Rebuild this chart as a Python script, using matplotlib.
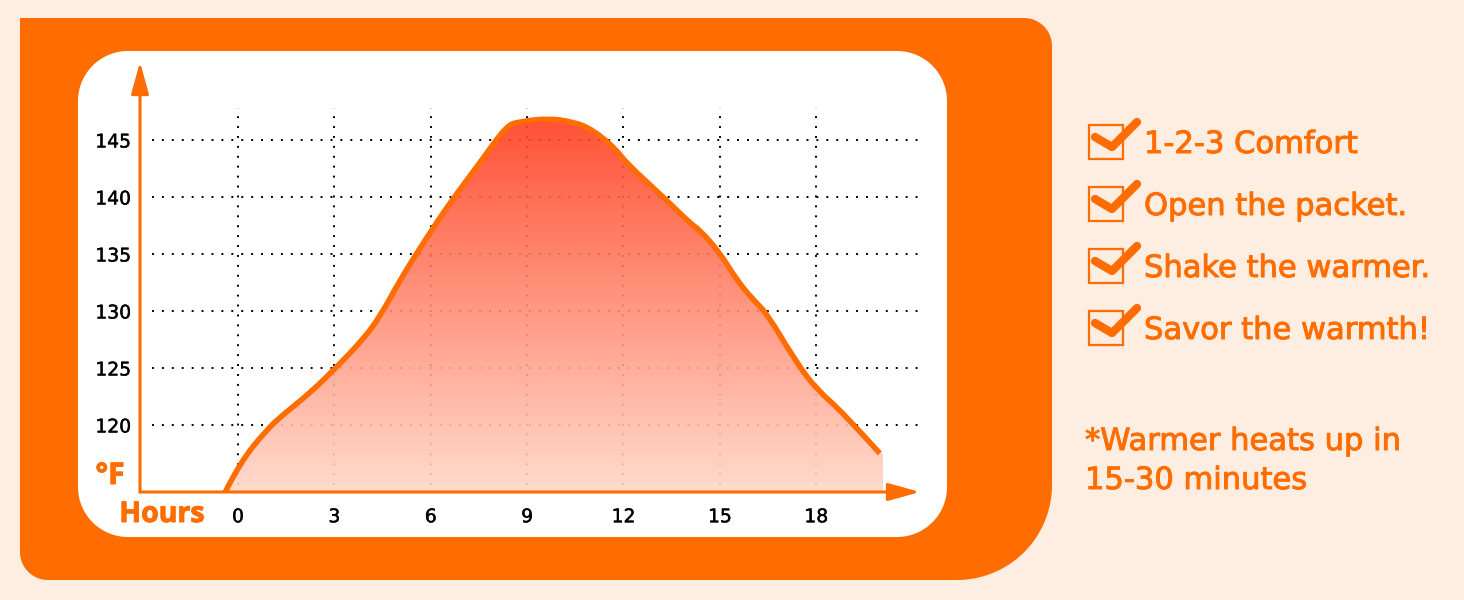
import numpy as np
import matplotlib
matplotlib.use("Agg")
import matplotlib.pyplot as plt
import matplotlib.patheffects as pe
from matplotlib.patches import Polygon, Rectangle, PathPatch
from matplotlib.path import Path

plt.rcParams["font.family"] = ["DejaVu Sans"]

# temperature curve (hours, degrees F)
hours = [-0.40, 0.06, 0.90, 1.40, 2.24, 3.08, 3.89, 4.42, 5.04, 5.82, 6.60, 7.53,
         8.37, 8.78, 9.62, 10.43, 11.05, 11.80, 12.04, 13.35, 14.07, 14.38, 15.00,
         15.53, 16.03, 16.46, 17.40, 18.02, 18.83, 19.98]
temps = [114.1, 116.7, 119.6, 120.9, 122.8, 125.1, 127.5, 129.5, 132.7, 136.2, 139.5, 143.0,
         146.3, 146.6, 146.9, 146.6, 145.9, 144.1, 143.1, 139.7, 137.7, 137.1, 135.1,
         132.7, 131.0, 129.8, 125.4, 123.1, 121.1, 117.5]
x_ticks = [0, 3, 6, 9, 12, 15, 18]
y_ticks = [120, 125, 130, 135, 140, 145]
steps = ["1-2-3 Comfort", "Open the packet.", "Shake the warmer.", "Savor the warmth!"]
note_lines = ["*Warmer heats up in", "15-30 minutes"]

ORANGE = "#ff6d00"
BG = "#feede1"
W, H = 1464, 600
thicken = [pe.withStroke(linewidth=0.7, foreground=ORANGE)]


def rounded_rect(x0, y0, x1, y1, radii, n=30):
    # radii: top-left, top-right, bottom-right, bottom-left (pixel coords, y down)
    tl, tr, br, bl = radii
    pts = []
    corners = [
        (x0 + tl, y0 + tl, tl, 180, 270),
        (x1 - tr, y0 + tr, tr, 270, 360),
        (x1 - br, y1 - br, br, 0, 90),
        (x0 + bl, y1 - bl, bl, 90, 180),
    ]
    for cx, cy, r, a0, a1 in corners:
        a = np.radians(np.linspace(a0, a1, n))
        pts.extend(zip(cx + r * np.cos(a), cy + r * np.sin(a)))
    return pts


def smooth_path(xs, ys):
    # quadratic bezier through midpoints, read points act as control points
    pts = np.column_stack([xs, ys])
    verts = [pts[0]]
    codes = [Path.MOVETO]
    for i in range(1, len(pts) - 1):
        mid = (pts[i] + pts[i + 1]) / 2
        if i == len(pts) - 2:
            mid = pts[i + 1]
        verts += [pts[i], mid]
        codes += [Path.CURVE3, Path.CURVE3]
    return verts, codes


fig = plt.figure(figsize=(W / 100, H / 100), dpi=100)
fig.patch.set_facecolor(BG)

bg = fig.add_axes([0, 0, 1, 1])
bg.set_xlim(0, W)
bg.set_ylim(H, 0)
bg.axis("off")
bg.add_patch(Polygon(rounded_rect(20, 18, 1052, 580, (0, 28, 95, 28)), closed=True,
                     facecolor=ORANGE, edgecolor="none"))
bg.add_patch(Polygon(rounded_rect(78, 51, 947, 537, (50, 50, 50, 50)), closed=True,
                     facecolor="white", edgecolor="none"))

# chart area: pixel 140..920 horizontally, 62..492 vertically
x0, x1 = -3.05, 21.23
y0, y1 = 114.12, 151.84
ax = fig.add_axes([140 / W, (H - 492) / H, 780 / W, 430 / H])
ax.patch.set_visible(False)
ax.set_xlim(x0, x1)
ax.set_ylim(y0, y1)
for s in ax.spines.values():
    s.set_visible(False)
ax.set_xticks(x_ticks)
ax.set_yticks(y_ticks)
ax.tick_params(length=0, labelsize=13.5, colors="black")
ax.tick_params(axis="x", pad=11)
ax.tick_params(axis="y", pad=6.5)
for lab in ax.get_xticklabels() + ax.get_yticklabels():
    lab.set_path_effects([pe.withStroke(linewidth=0.3, foreground="black")])

dots = (0, (1, 4.1))
ax.hlines(y_ticks, -2.68, 21.26, colors="black", linestyles=dots, lw=1.4, zorder=1)
ax.vlines(x_ticks, 114.7, 147.8, colors="black", linestyles=dots, lw=1.4, zorder=1)

verts, codes = smooth_path(hours, temps)
curve = Path(verts, codes)

# gradient fill under the curve
grad = np.linspace(0, 1, 256)[:, None]
top = np.array([255, 60, 28]) / 255
bot = np.array([255, 216, 200]) / 255
rgb = bot + (top - bot) * grad[..., None]
img = ax.imshow(rgb, extent=(x0, x1, y0, 147.2), origin="lower", aspect="auto",
                alpha=0.9, zorder=2, interpolation="bilinear")
clip_verts = verts + [(hours[-1] + 0.1, temps[-1]), (hours[-1] + 0.1, y0), (hours[0], y0),
                      (hours[0], temps[0])]
clip_codes = codes + [Path.LINETO, Path.LINETO, Path.LINETO, Path.CLOSEPOLY]
img.set_clip_path(PathPatch(Path(clip_verts, clip_codes), transform=ax.transData))
ax.set_xlim(x0, x1)
ax.set_ylim(y0, y1)

ax.add_patch(PathPatch(curve, facecolor="none", edgecolor=ORANGE, lw=4,
                       joinstyle="round", capstyle="butt", zorder=3))

arrow = dict(arrowstyle="-|>,head_length=0.97,head_width=0.27", mutation_scale=20,
             color=ORANGE, lw=2.2, shrinkA=0, shrinkB=0)
ax.annotate("", xy=(0, 1), xytext=(0, 0), xycoords="axes fraction", arrowprops=arrow, zorder=4)
ax.annotate("", xy=(1, 0), xytext=(0, 0), xycoords="axes fraction", arrowprops=arrow, zorder=4)

bg.text(110, 484, "°F", color=ORANGE, fontsize=21.5, fontweight="bold", ha="center",
        va="baseline", family="Open Sans", path_effects=thicken)
bg.text(162, 522, "Hours", color=ORANGE, fontsize=20.5, fontweight="bold", ha="center",
        va="baseline", family="Open Sans", path_effects=thicken)

# checklist on the right
for i, label in enumerate(steps):
    top_y = 125 + 62 * i
    bg.add_patch(Rectangle((1089, top_y), 34, 34, fill=False, edgecolor=ORANGE, lw=1.6))
    bg.plot([1095, 1112, 1137], [top_y + 12, top_y + 22, top_y - 3], color=ORANGE, lw=6,
            solid_capstyle="round", solid_joinstyle="round")
    bg.text(1144, 153 + 62 * i, label, color=ORANGE, fontsize=22,
            va="baseline", ha="left", path_effects=thicken)

for i, line in enumerate(note_lines):
    bg.text(1085, 450 + 39 * i, line, color=ORANGE, fontsize=22,
            va="baseline", ha="left", path_effects=thicken)

fig.savefig("out.png", dpi=100, facecolor=BG)
